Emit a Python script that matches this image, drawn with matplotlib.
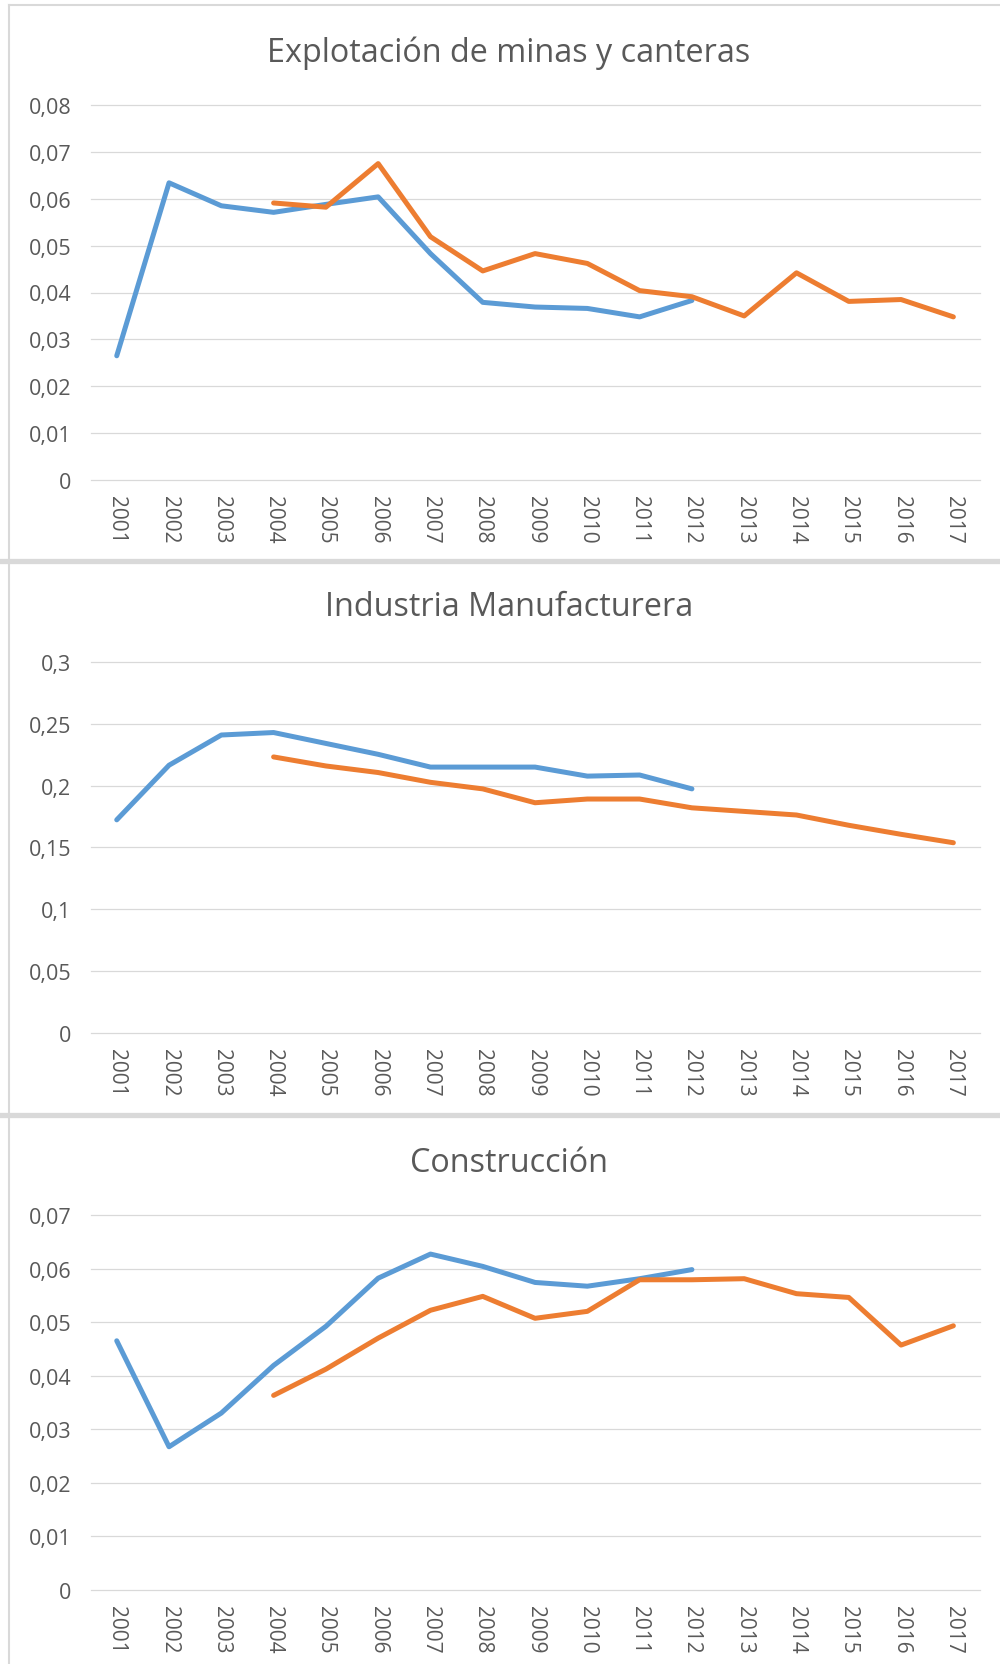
import numpy as np
import matplotlib
matplotlib.use('Agg')
import matplotlib.pyplot as plt
import matplotlib.ticker as mticker
from matplotlib.lines import Line2D

years = [str(y) for y in range(2001, 2018)]

titles = ['Explotación de minas y canteras',
          'Industria Manufacturera',
          'Construcción']

nan = np.nan
mineria_azul = [0.0265, 0.0634, 0.0585, 0.0571, 0.0588, 0.0604, 0.0483,
                0.0379, 0.0369, 0.0366, 0.0348, 0.0383,
                nan, nan, nan, nan, nan]
mineria_naranja = [nan, nan, nan, 0.0591, 0.0582, 0.0675, 0.0519, 0.0446,
                   0.0483, 0.0462, 0.0404, 0.0391, 0.0350, 0.0442, 0.0381,
                   0.0385, 0.0348]

industria_azul = [0.1723, 0.2164, 0.2408, 0.2428, 0.2340, 0.2252, 0.2149,
                  0.2149, 0.2149, 0.2076, 0.2085, 0.1973,
                  nan, nan, nan, nan, nan]
industria_naranja = [nan, nan, nan, 0.2231, 0.2158, 0.2105, 0.2026, 0.1973,
                     0.1861, 0.1891, 0.1891, 0.1820, 0.1791, 0.1762, 0.1679,
                     0.1606, 0.1538]

construccion_azul = [0.0465, 0.0267, 0.0330, 0.0419, 0.0492, 0.0582, 0.0627,
                     0.0604, 0.0574, 0.0567, 0.0581, 0.0598,
                     nan, nan, nan, nan, nan]
construccion_naranja = [nan, nan, nan, 0.0363, 0.0412, 0.0470, 0.0522,
                        0.0548, 0.0507, 0.0520, 0.0579, 0.0579, 0.0581,
                        0.0553, 0.0546, 0.0457, 0.0493]

series = [(mineria_azul, mineria_naranja),
          (industria_azul, industria_naranja),
          (construccion_azul, construccion_naranja)]
y_max = [0.08, 0.3, 0.07]
y_step = [0.01, 0.05, 0.01]

BLUE = '#5B9BD5'
ORANGE = '#ED7D31'
GRID = '#D9D9D9'
TEXT = '#595959'

plt.rcParams['font.family'] = ['Open Sans', 'DejaVu Sans']

W, H = 1000, 1665
fig = plt.figure(figsize=(W / 100, H / 100), dpi=100)

# (top px of max value, bottom px of zero, title centre px)
panels = [(106, 481, 53), (662.7, 1034.2, 608), (1216, 1590.7, 1163)]
left_px, right_px = 90.6, 979.5


def comma_fmt(v, pos):
    return ('%g' % round(v, 4)).replace('.', ',')


for i, (top, bottom, title_y) in enumerate(panels):
    ax = fig.add_axes([left_px / W, (H - bottom) / H,
                       (right_px - left_px) / W, (bottom - top) / H])
    blue, orange = series[i]
    x = np.arange(len(years))
    ax.plot(x, blue, color=BLUE, lw=3.6, solid_joinstyle='round',
            solid_capstyle='round', zorder=3)
    ax.plot(x, orange, color=ORANGE, lw=3.6, solid_joinstyle='round',
            solid_capstyle='round', zorder=3)
    ax.set_xlim(-0.5, len(years) - 0.5)
    ax.set_ylim(0, y_max[i])
    ax.yaxis.set_major_locator(mticker.MultipleLocator(y_step[i]))
    ax.yaxis.set_major_formatter(mticker.FuncFormatter(comma_fmt))
    ax.set_xticks(x)
    ax.set_xticklabels(years, rotation=270)
    ax.tick_params(axis='x', length=0, pad=11, labelsize=15,
                   labelcolor=TEXT)
    ax.tick_params(axis='y', length=0, pad=14, labelsize=15.5,
                   labelcolor=TEXT)
    ax.grid(axis='y', color=GRID, lw=0.9)
    for gl in ax.get_ygridlines():
        gl.set_clip_on(False)
    ax.set_axisbelow(True)
    for s in ax.spines.values():
        s.set_visible(False)
    fig.text(0.509, 1 - title_y / H, titles[i], ha='center', va='center',
             fontsize=23.3, color=TEXT)

# chart borders: left edge, top edge and separators between charts
fig.add_artist(Line2D([9 / W, 9 / W], [0, 1 - 6 / H], color=GRID, lw=1.5))
fig.add_artist(Line2D([9 / W, 1], [1 - 6 / H, 1 - 6 / H], color=GRID,
                      lw=1.5))
for sep in [561.5, 1116]:
    fig.add_artist(Line2D([0, 1], [1 - sep / H, 1 - sep / H], color=GRID,
                          lw=3.8))

fig.savefig('out.png', dpi=100, facecolor='white')
